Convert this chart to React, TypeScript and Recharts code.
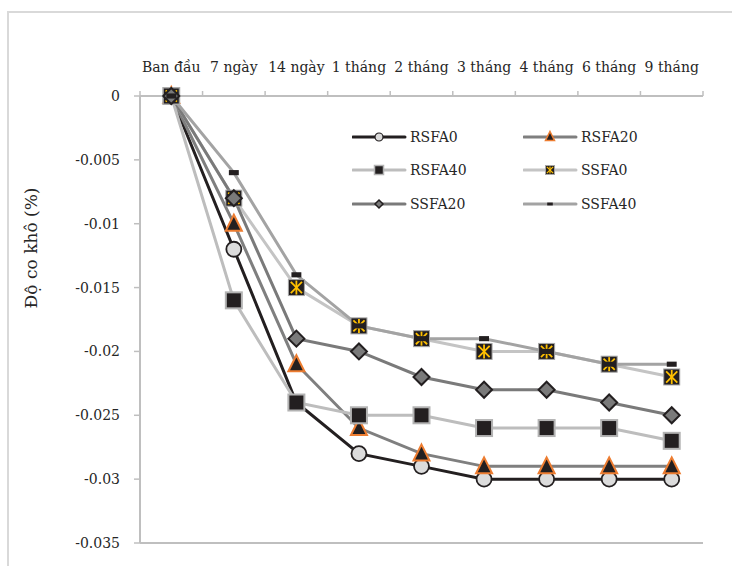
import { ComposedChart, Line, XAxis, YAxis, Legend, ReferenceLine } from "recharts";

if (typeof document !== "undefined") {
  document.body.style.margin = "0";
}

const periods = ["Ban đầu", "7 ngày", "14 ngày", "1 tháng", "2 tháng", "3 tháng", "4 tháng", "6 tháng", "9 tháng"];
const rsfa0 = [0, -0.012, -0.024, -0.028, -0.029, -0.03, -0.03, -0.03, -0.03];
const rsfa20 = [0, -0.01, -0.021, -0.026, -0.028, -0.029, -0.029, -0.029, -0.029];
const rsfa40 = [0, -0.016, -0.024, -0.025, -0.025, -0.026, -0.026, -0.026, -0.027];
const ssfa0 = [0, -0.008, -0.015, -0.018, -0.019, -0.02, -0.02, -0.021, -0.022];
const ssfa20 = [0, -0.008, -0.019, -0.02, -0.022, -0.023, -0.023, -0.024, -0.025];
const ssfa40 = [0, -0.006, -0.014, -0.018, -0.019, -0.019, -0.02, -0.021, -0.021];
const yTicks = [0, -0.005, -0.01, -0.015, -0.02, -0.025, -0.03, -0.035];

const FONT = "DejaVu Serif";
const TEXT = "#262626";
const AXIS = "#bfbfbf";
const INK = "#231f20";

type Kind = "circle" | "triangle" | "square" | "star" | "diamond" | "dash";

const series: { key: string; name: string; color: string; kind: Kind; values: number[] }[] = [
  { key: "RSFA0", name: "RSFA0", color: INK, kind: "circle", values: rsfa0 },
  { key: "RSFA20", name: "RSFA20", color: "#7f7f7f", kind: "triangle", values: rsfa20 },
  { key: "RSFA40", name: "RSFA40", color: "#bdbdbd", kind: "square", values: rsfa40 },
  { key: "SSFA0", name: "SSFA0", color: "#c4c4c4", kind: "star", values: ssfa0 },
  { key: "SSFA20", name: "SSFA20", color: "#7a7a7a", kind: "diamond", values: ssfa20 },
  { key: "SSFA40", name: "SSFA40", color: "#a3a3a3", kind: "dash", values: ssfa40 },
];

const data = periods.map((name, i) => {
  const row: Record<string, number | string> = { name };
  series.forEach((s) => (row[s.key] = s.values[i]));
  return row;
});

// chart geometry
const W = 732;
const H = 566;
const PLOT_LEFT = 140;
const PLOT_RIGHT = 703;
const BAND = (PLOT_RIGHT - PLOT_LEFT) / periods.length;

function Marker({ kind, cx, cy, s }: { kind: Kind; cx: number; cy: number; s: number }) {
  const h = s / 2;
  switch (kind) {
    case "circle":
      return <circle cx={cx} cy={cy} r={h - 0.5} fill="#dcdcdc" stroke={INK} strokeWidth={s > 12 ? 1.8 : 1.2} />;
    case "triangle":
      return (
        <polygon
          points={`${cx},${cy - h - 1} ${cx + h},${cy + h - 1} ${cx - h},${cy + h - 1}`}
          fill={INK}
          stroke="#ed7d31"
          strokeWidth={s > 12 ? 2 : 1.5}
        />
      );
    case "square":
      return <rect x={cx - h} y={cy - h} width={s} height={s} fill={INK} stroke="#b3b3b3" strokeWidth={s > 12 ? 2 : 1.5} />;
    case "star": {
      const a = h * 0.7;
      return (
        <g>
          <rect x={cx - h} y={cy - h} width={s} height={s} fill={INK} stroke="#a6a6a6" strokeWidth={1} />
          <g stroke="#ffc000" strokeWidth={s > 12 ? 1.8 : 1.2}>
            <line x1={cx - a} y1={cy - a} x2={cx + a} y2={cy + a} />
            <line x1={cx + a} y1={cy - a} x2={cx - a} y2={cy + a} />
            <line x1={cx} y1={cy - h + 1} x2={cx} y2={cy + h - 1} />
          </g>
        </g>
      );
    }
    case "diamond":
      return (
        <polygon
          points={`${cx},${cy - h} ${cx + h},${cy} ${cx},${cy + h} ${cx - h},${cy}`}
          fill="#7a7a7a"
          stroke={INK}
          strokeWidth={s > 12 ? 2 : 1.5}
        />
      );
    default:
      return <rect x={cx - s * 0.31} y={cy - s * 0.16} width={s * 0.62} height={s * 0.32} fill={INK} />;
  }
}

function XTick(props: any) {
  const { x, y, payload, index } = props;
  const half = BAND / 2;
  const last = index === periods.length - 1;
  return (
    <g>
      <text x={x} y={y} textAnchor="middle" fill={TEXT} fontSize={14} fontFamily={FONT}>
        {payload.value}
      </text>
      <line x1={x - half} x2={x - half} y1={y + 19} y2={y + 24} stroke={AXIS} strokeWidth={1.5} />
      {last && <line x1={x + half} x2={x + half} y1={y + 19} y2={y + 24} stroke={AXIS} strokeWidth={1.5} />}
    </g>
  );
}

function YTitle(props: any) {
  const vb = props.viewBox || { x: 15, y: 96, height: 447 };
  const cx = vb.x + 16;
  const cy = vb.y + vb.height * 0.34;
  return (
    <text
      x={cx}
      y={cy}
      transform={`rotate(-90 ${cx} ${cy})`}
      textAnchor="middle"
      dominantBaseline="central"
      fill={TEXT}
      fontSize={17}
      fontFamily={FONT}
    >
      Độ co khô (%)
    </text>
  );
}

function LegendBox() {
  return (
    <div style={{ display: "grid", gridTemplateColumns: "171px 171px", fontFamily: FONT, fontSize: 14, color: TEXT }}>
      {series.map((s) => (
        <div key={s.key} style={{ display: "flex", alignItems: "center", height: 33.5 }}>
          <svg width={58} height={16} style={{ display: "block" }}>
            <line x1={1} x2={53} y1={8} y2={8} stroke={s.color} strokeWidth={3} strokeLinecap="round" />
            <Marker kind={s.kind} cx={27} cy={8} s={s.kind === "diamond" ? 8 : 9} />
          </svg>
          <span>{s.name}</span>
        </div>
      ))}
    </div>
  );
}

export default function App() {
  return (
    <div style={{ position: "relative", width: W, height: H, overflow: "hidden", background: "#fff" }}>
      <div
        style={{
          position: "absolute",
          left: 7,
          top: 11,
          width: 800,
          height: 700,
          borderLeft: "2px solid #d9d9d9",
          borderTop: "2px solid #d9d9d9",
        }}
      />
      <ComposedChart
        width={W}
        height={H}
        data={data}
        margin={{ top: 66, right: W - PLOT_RIGHT, bottom: 23, left: PLOT_LEFT - 125 }}
        style={{ fontFamily: FONT }}
      >
        <XAxis
          dataKey="name"
          orientation="top"
          scale="band"
          height={30}
          interval={0}
          tickSize={5}
          tickMargin={19}
          tickLine={false}
          axisLine={{ stroke: AXIS, strokeWidth: 2 }}
          tick={<XTick />}
        />
        <YAxis
          domain={[-0.035, 0]}
          ticks={yTicks}
          interval={0}
          width={125}
          tickSize={6}
          tickMargin={14}
          tick={{ fill: TEXT, fontSize: 14, fontFamily: FONT }}
          tickLine={{ stroke: AXIS, strokeWidth: 1.5 }}
          axisLine={{ stroke: AXIS, strokeWidth: 2 }}
          label={(p: any) => <YTitle {...p} />}
        />
        <YAxis
          yAxisId="right"
          orientation="right"
          width={0}
          domain={[-0.035, 0]}
          tick={false}
          tickLine={false}
          axisLine={{ stroke: AXIS, strokeWidth: 2 }}
        />
        <ReferenceLine y={-0.035} stroke={AXIS} strokeWidth={2} />
        {series.map((s) => (
          <Line
            key={s.key}
            dataKey={s.key}
            name={s.name}
            stroke={s.color}
            strokeWidth={3}
            isAnimationActive={false}
            activeDot={false}
            dot={(p: any) => <Marker key={`${s.key}-${p.index}`} kind={s.kind} cx={p.cx} cy={p.cy} s={16} />}
          />
        ))}
        <Legend
          verticalAlign="middle"
          align="center"
          layout="horizontal"
          wrapperStyle={{ left: 352, top: 120, width: 342, height: 101 }}
          content={() => <LegendBox />}
        />
      </ComposedChart>
    </div>
  );
}
